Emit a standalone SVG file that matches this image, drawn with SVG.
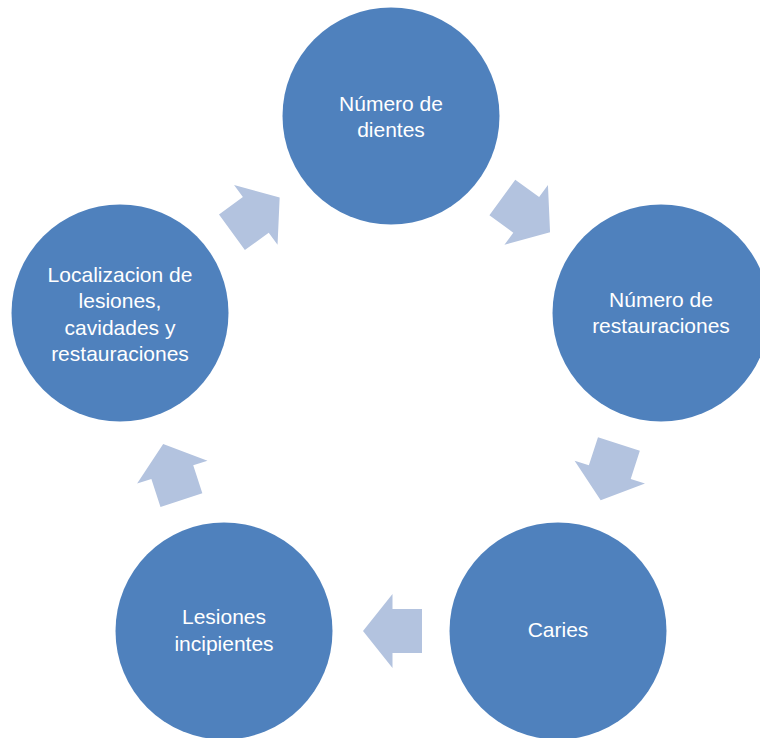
<svg xmlns="http://www.w3.org/2000/svg" width="760" height="738" viewBox="0 0 760 738">
<defs>
<style>
.node{fill:#4F81BD;}
.arr{fill:#B3C3DF;}
.t{fill:#FFFFFF;font-family:"Liberation Sans",Arial,sans-serif;font-size:21px;text-anchor:middle;}
</style>
<path id="arrowShape" d="M-29.5,-22 L0,-22 L0,-37 L29.5,0 L0,37 L0,22 L-29.5,22 Z"/>
</defs>
<rect width="760" height="738" fill="#FFFFFF"/>
<g id="connectors">
<use href="#arrowShape" class="arr" transform="translate(526.2,214.9) rotate(36)"/>
<use href="#arrowShape" class="arr" transform="translate(609.8,472.1) rotate(108)"/>
<use href="#arrowShape" class="arr" transform="translate(392.5,631) rotate(180)"/>
<use href="#arrowShape" class="arr" transform="translate(172.3,472.1) rotate(252)"/>
<use href="#arrowShape" class="arr" transform="translate(255.8,214.9) rotate(324)"/>
</g>
<g id="node1">
<circle class="node" cx="391" cy="116" r="108.5"/>
<text class="t" x="391" y="111">Número de</text>
<text class="t" x="391" y="137">dientes</text>
</g>
<g id="node2">
<circle class="node" cx="661" cy="313" r="108.5"/>
<text class="t" x="661" y="306.7">Número de</text>
<text class="t" x="661" y="333.3">restauraciones</text>
</g>
<g id="node3">
<circle class="node" cx="558" cy="631" r="108.5"/>
<text class="t" x="558" y="637">Caries</text>
</g>
<g id="node4">
<circle class="node" cx="224" cy="631" r="108.5"/>
<text class="t" x="224" y="624.3">Lesiones</text>
<text class="t" x="224" y="650.5">incipientes</text>
</g>
<g id="node5">
<circle class="node" cx="120" cy="313" r="108.5"/>
<text class="t" x="120" y="281.7">Localizacion de</text>
<text class="t" x="120" y="308.2">lesiones,</text>
<text class="t" x="120" y="334.5">cavidades y</text>
<text class="t" x="120" y="360.8">restauraciones</text>
</g>
</svg>
